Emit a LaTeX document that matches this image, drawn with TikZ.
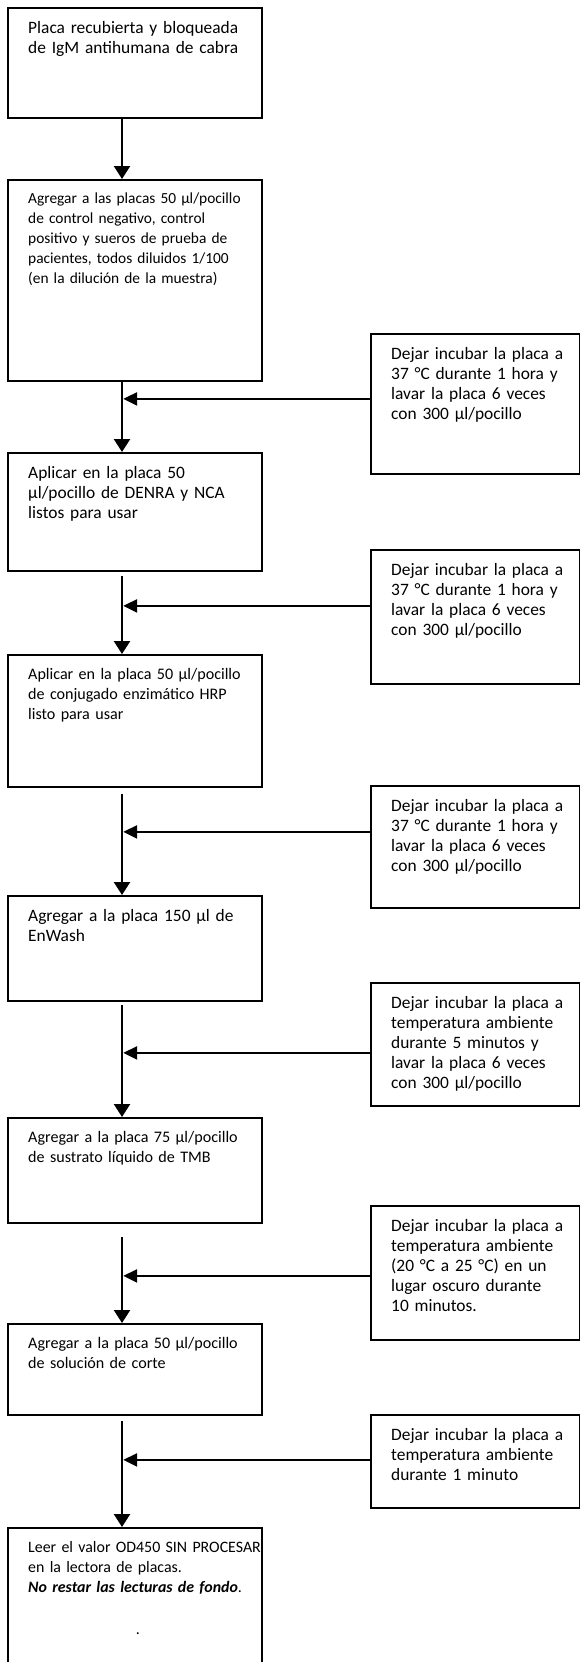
\documentclass[tikz,border=0pt]{standalone}
\usepackage{fontspec}
\setmainfont{Carlito}
\usetikzlibrary{arrows.meta}

\begin{document}
\begin{tikzpicture}[x=1pt,y=-1pt]
    \tikzstyle{every node}+=[inner sep=0pt]
    \tikzstyle{caja}=[draw=black, line width=1.8pt, rectangle, anchor=north west, minimum width=254pt]
    \tikzstyle{lado}=[draw=black, line width=1.8pt, rectangle, anchor=north west, minimum width=209pt]
    \tikzstyle{texto}=[anchor=north west, align=left, text width=245pt, font=\fontsize{16.1}{20}\selectfont]
    \tikzstyle{ancho}=[texto, font=\fontsize{17.4}{20}\selectfont]
    \tikzstyle{nota}=[ancho, text width=190pt]
    \tikzstyle{baja}=[draw=black, line width=2.4pt, -{Triangle[length=13pt,width=16pt]}]
    \tikzstyle{entra}=[draw=black, line width=2.4pt, -{Triangle[length=14pt,width=13pt]}, shorten >=1.2pt]
    \useasboundingbox (0,0) rectangle (580,1662);
    \fill [white] (0,0) rectangle (580,1662);
    \clip (0,0) rectangle (580,1662);
    \coordinate (eje) at (122,0);
    % pasos
    \node [caja, minimum height=110pt] (c1) at (7,7) {};
    \node [ancho] (t1) at ([xshift=21pt,yshift=-14pt]c1.north west) {Placa recubierta y bloqueada\\de IgM antihumana de cabra};
    \node [caja, minimum height=201pt] (c2) at (7,179) {};
    \node [texto, font=\fontsize{15.4}{20}\selectfont] (t2) at ([xshift=21pt,yshift=-14pt]c2.north west) {Agregar a las placas 50 µl/pocillo\\de control negativo, control\\positivo y sueros de prueba de\\pacientes, todos diluidos 1/100\\(en la dilución de la muestra)};
    \node [caja, minimum height=118pt] (c3) at (7,452) {};
    \node [ancho] (t3) at ([xshift=21pt,yshift=-14pt]c3.north west) {Aplicar en la placa 50\\µl/pocillo de DENRA y NCA\\listos para usar};
    \node [caja, minimum height=132pt] (c4) at (7,654) {};
    \node [texto] (t4) at ([xshift=21pt,yshift=-14pt]c4.north west) {Aplicar en la placa 50 µl/pocillo\\de conjugado enzimático HRP\\listo para usar};
    \node [caja, minimum height=105pt] (c5) at (7,895) {};
    \node [ancho] (t5) at ([xshift=21pt,yshift=-14pt]c5.north west) {Agregar a la placa 150 µl de\\EnWash};
    \node [caja, minimum height=105pt] (c6) at (7,1117) {};
    \node [texto] (t6) at ([xshift=21pt,yshift=-14pt]c6.north west) {Agregar a la placa 75 µl/pocillo\\de sustrato líquido de TMB};
    \node [caja, minimum height=91pt] (c7) at (7,1323) {};
    \node [texto] (t7) at ([xshift=21pt,yshift=-14pt]c7.north west) {Agregar a la placa 50 µl/pocillo\\de solución de corte};
    \node [caja, minimum height=200pt] (c8) at (7,1527) {};
    \node [texto, font=\fontsize{15.9}{20}\selectfont] (t8) at ([xshift=21pt,yshift=-14pt]c8.north west) {Leer el valor OD450 SIN PROCESAR\\en la lectora de placas.\\\textbf{\textit{No restar las lecturas de fondo}}.};
    \node [font=\fontsize{15.9}{20}\selectfont] (punto) at (138,1634) {.};
    % incubaciones
    \node [lado, minimum height=140pt] (s1) at (370,333) {};
    \node [nota] (n1) at ([xshift=21pt,yshift=-14pt]s1.north west) {Dejar incubar la placa a\\37 °C durante 1 hora y\\lavar la placa 6 veces\\con 300 µl/pocillo};
    \node [lado, minimum height=134pt] (s2) at (370,549) {};
    \node [nota] (n2) at ([xshift=21pt,yshift=-14pt]s2.north west) {Dejar incubar la placa a\\37 °C durante 1 hora y\\lavar la placa 6 veces\\con 300 µl/pocillo};
    \node [lado, minimum height=122pt] (s3) at (370,785) {};
    \node [nota] (n3) at ([xshift=21pt,yshift=-14pt]s3.north west) {Dejar incubar la placa a\\37 °C durante 1 hora y\\lavar la placa 6 veces\\con 300 µl/pocillo};
    \node [lado, minimum height=123pt] (s4) at (370,982) {};
    \node [nota] (n4) at ([xshift=21pt,yshift=-14pt]s4.north west) {Dejar incubar la placa a\\temperatura ambiente\\durante 5 minutos y\\lavar la placa 6 veces\\con 300 µl/pocillo};
    \node [lado, minimum height=134pt] (s5) at (370,1205) {};
    \node [nota] (n5) at ([xshift=21pt,yshift=-14pt]s5.north west) {Dejar incubar la placa a\\temperatura ambiente\\(20 °C a 25 °C) en un\\lugar oscuro durante\\10 minutos.};
    \node [lado, minimum height=93pt] (s6) at (370,1414) {};
    \node [nota] (n6) at ([xshift=21pt,yshift=-14pt]s6.north west) {Dejar incubar la placa a\\temperatura ambiente\\durante 1 minuto};
    % flechas
    \draw [baja] (c1.south -| eje) -- (c2.north -| eje);
    \draw [baja] (c2.south -| eje) -- (c3.north -| eje);
    \draw [baja, shorten <=4pt] (c3.south -| eje) -- (c4.north -| eje);
    \draw [baja, shorten <=6pt] (c4.south -| eje) -- (c5.north -| eje);
    \draw [baja, shorten <=3pt] (c5.south -| eje) -- (c6.north -| eje);
    \draw [baja, shorten <=13pt] (c6.south -| eje) -- (c7.north -| eje);
    \draw [baja, shorten <=5pt] (c7.south -| eje) -- (c8.north -| eje);
    \coordinate (f1) at ([yshift=5pt]s1.west);
    \coordinate (f2) at ([yshift=11pt]s2.west);
    \coordinate (f3) at ([yshift=15pt]s3.west);
    \coordinate (f4) at ([yshift=-8.5pt]s4.west);
    \coordinate (f5) at ([yshift=-3pt]s5.west);
    \coordinate (f6) at ([yshift=1.5pt]s6.west);
    \draw [entra] (f1) -- (f1 -| eje);
    \draw [entra] (f2) -- (f2 -| eje);
    \draw [entra] (f3) -- (f3 -| eje);
    \draw [entra] (f4) -- (f4 -| eje);
    \draw [entra] (f5) -- (f5 -| eje);
    \draw [entra] (f6) -- (f6 -| eje);
\end{tikzpicture}
\end{document}
